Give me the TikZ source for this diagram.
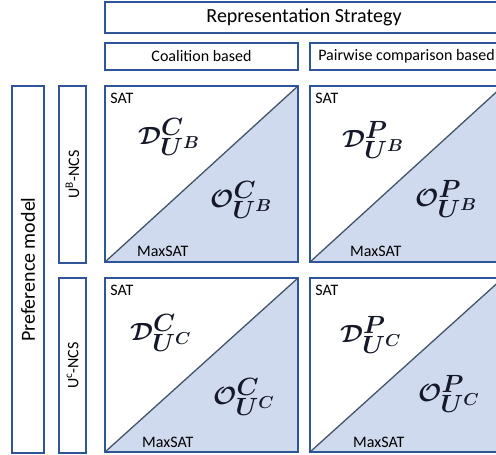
\documentclass[tikz,border=0pt]{standalone}
\usepackage{fontspec}
\setmainfont{Carlito}
\usetikzlibrary{calc}
\definecolor{bord}{HTML}{2F5597}
\definecolor{trifill}{HTML}{D0DAEE}
\definecolor{diag}{HTML}{44546A}
\definecolor{mathink}{HTML}{141828}
\begin{document}
\begin{tikzpicture}[x=1pt,y=-1pt,
  box/.style={draw=bord, line width=1.7pt, fill=white, inner sep=0pt},
  cell/.style={box, minimum width=193pt,
    path picture={
      \fill[trifill] (path picture bounding box.south west) -- (path picture bounding box.north east) -- (path picture bounding box.south east) -- cycle;
      \draw[diag, line width=1.3pt] (path picture bounding box.south west) -- (path picture bounding box.north east);}},
  lbl/.style={font=\fontsize{16}{18}\selectfont, inner sep=0pt},
  big/.style={font=\fontsize{20}{24}\selectfont},
  mth/.style={inner sep=0pt, anchor=west, text=mathink, font=\fontsize{33}{36}\selectfont\boldmath}]
\useasboundingbox (0,0) rectangle (496,455);
\clip (0,0) rectangle (496,455);
% headers
\node[box, big, minimum width=398pt, minimum height=31pt] (rs) at (304,17.5) {Representation Strategy};
\node[box, lbl, minimum width=193pt, minimum height=27pt] (cb) at (201.5,56.5) {Coalition based};
\node[box, lbl, minimum width=193pt, minimum height=27pt] (pc) at (406.5,56.5) {Pairwise comparison based};
% row headers
\node[box, minimum width=32pt, minimum height=367pt] (pm) at (28,269.5) {};
\node[big, rotate=90] (pmt) at (pm.center) {Preference model};
\node[box, minimum width=27pt, minimum height=177pt] (ub) at (72.5,174.5) {};
\node[lbl, rotate=90] (ubt) at (ub.center) {U\textsuperscript{B}-NCS};
\node[box, minimum width=27pt, minimum height=175pt] (uc) at (72.5,365.5) {};
\node[lbl, rotate=90] (uct) at (uc.center) {U\textsuperscript{c}-NCS};
% cells
\node[cell, minimum height=176pt] (s11) at (201.5,174) {};
\node[cell, minimum height=176pt] (s12) at (406.5,174) {};
\node[cell, minimum height=174pt] (s21) at (201.5,365) {};
\node[cell, minimum height=174pt] (s22) at (406.5,365) {};
% SAT / MaxSAT labels
\node[lbl, anchor=north west] (sat11) at ($(s11.north west)+(6,8)$) {SAT};
\node[lbl, anchor=north west] (sat12) at ($(s12.north west)+(6,8)$) {SAT};
\node[lbl, anchor=north west] (sat21) at ($(s21.north west)+(6,8)$) {SAT};
\node[lbl, anchor=north west] (sat22) at ($(s22.north west)+(6,8)$) {SAT};
\node[lbl, anchor=base west] (max11) at (137,256) {MaxSAT};
\node[lbl, anchor=base west] (max12) at (350,256) {MaxSAT};
\node[lbl, anchor=base west] (max21) at (142,447) {MaxSAT};
\node[lbl, anchor=base west] (max22) at (353,447) {MaxSAT};
% math
\node[mth] (d11) at (138,137) {$\mathcal{D}^{C}_{U^{B}}$};
\node[mth] (o11) at (210,200) {$\mathcal{O}^{C}_{U^{B}}$};
\node[mth] (d12) at (342,140) {$\mathcal{D}^{P}_{U^{B}}$};
\node[mth] (o12) at (415,199) {$\mathcal{O}^{P}_{U^{B}}$};
\node[mth] (d21) at (130,333) {$\mathcal{D}^{C}_{U^{C}}$};
\node[mth] (o21) at (213,397) {$\mathcal{O}^{C}_{U^{C}}$};
\node[mth] (d22) at (340,335) {$\mathcal{D}^{P}_{U^{C}}$};
\node[mth] (o22) at (418,394) {$\mathcal{O}^{P}_{U^{C}}$};
\end{tikzpicture}
\end{document}
